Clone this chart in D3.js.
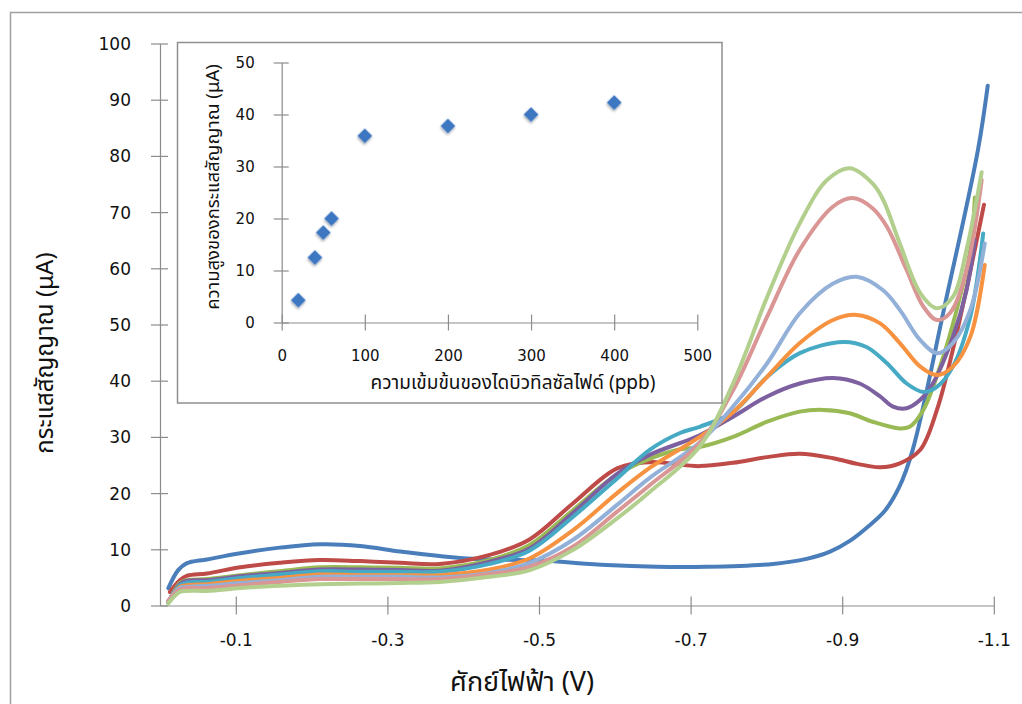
<!DOCTYPE html>
<html>
<head>
<meta charset="utf-8">
<script src="https://cdn.jsdelivr.net/npm/d3@7/dist/d3.min.js"></script>
<style>
  html, body { margin: 0; padding: 0; background: #fff; }
  svg { display: block; }
  .tick text { font-family: "DejaVu Sans", "Noto Sans", sans-serif; fill: #111; }
  .title { font-family: "Noto Sans Thai", "Noto Sans", "DejaVu Sans", sans-serif; fill: #111; }
</style>
</head>
<body>
<svg id="chart" width="1022" height="704"></svg>
<script>
// Cyclic voltammograms: potential (V) vs current (µA), one series per concentration
const blank   = [[-0.011,3.1],[-0.024,6.3],[-0.035,7.5],[-0.062,8.2],[-0.106,9.3],[-0.158,10.3],[-0.211,10.9],[-0.264,10.6],[-0.317,9.6],[-0.369,8.8],[-0.413,8.3],[-0.501,8.0],[-0.589,7.2],[-0.655,6.9],[-0.721,6.9],[-0.809,7.4],[-0.853,8.3],[-0.884,9.6],[-0.910,11.5],[-0.932,13.8],[-0.956,16.8],[-0.975,21.0],[-0.993,27.7],[-1.036,53.8],[-1.079,81.0],[-1.092,92.5]];
const ppb20   = [[-0.013,2.4],[-0.026,4.5],[-0.036,5.3],[-0.062,5.7],[-0.106,6.8],[-0.158,7.6],[-0.211,8.1],[-0.264,7.9],[-0.317,7.6],[-0.369,7.4],[-0.435,9.0],[-0.488,11.8],[-0.545,18.2],[-0.603,24.4],[-0.646,25.5],[-0.712,24.8],[-0.756,25.4],[-0.801,26.4],[-0.844,27.0],[-0.888,26.2],[-0.920,25.2],[-0.950,24.6],[-0.976,25.3],[-1.003,27.7],[-1.025,34.8],[-1.046,45.5],[-1.069,59.5],[-1.087,71.3]];
const ppb40   = [[-0.011,0.4],[-0.026,4.0],[-0.036,4.5],[-0.062,4.7],[-0.106,5.4],[-0.158,6.1],[-0.211,6.8],[-0.264,6.8],[-0.317,6.7],[-0.369,6.6],[-0.435,8.1],[-0.488,10.8],[-0.545,17.0],[-0.603,23.3],[-0.646,26.1],[-0.686,27.8],[-0.712,28.2],[-0.756,30.0],[-0.801,32.7],[-0.844,34.5],[-0.875,34.8],[-0.910,34.2],[-0.940,32.7],[-0.976,31.5],[-0.989,31.8],[-1.007,34.8],[-1.029,42.5],[-1.051,52.6],[-1.069,63.3],[-1.075,72.6]];
const ppb50   = [[-0.011,0.6],[-0.026,3.8],[-0.036,4.4],[-0.062,4.5],[-0.106,5.2],[-0.158,5.8],[-0.211,6.4],[-0.264,6.4],[-0.317,6.3],[-0.369,6.2],[-0.435,7.8],[-0.488,10.2],[-0.545,16.5],[-0.603,23.4],[-0.646,26.8],[-0.712,30.3],[-0.756,33.6],[-0.801,37.2],[-0.844,39.5],[-0.888,40.5],[-0.923,39.5],[-0.950,37.2],[-0.967,35.4],[-0.985,35.1],[-1.003,36.6],[-1.020,39.6],[-1.046,47.8],[-1.064,56.1],[-1.075,65.0]];
const ppb60   = [[-0.011,0.6],[-0.026,3.6],[-0.036,4.1],[-0.062,4.2],[-0.106,4.9],[-0.158,5.5],[-0.211,6.1],[-0.264,6.0],[-0.317,6.0],[-0.369,6.0],[-0.435,7.4],[-0.488,9.8],[-0.545,15.8],[-0.603,22.6],[-0.646,27.7],[-0.686,30.7],[-0.712,31.8],[-0.756,34.4],[-0.801,40.7],[-0.844,44.9],[-0.901,46.9],[-0.932,46.0],[-0.959,43.1],[-0.985,39.5],[-1.007,38.0],[-1.025,38.9],[-1.046,42.5],[-1.069,51.4],[-1.086,66.2]];
const ppb100  = [[-0.011,0.8],[-0.026,3.3],[-0.036,3.6],[-0.062,3.8],[-0.106,4.4],[-0.158,4.9],[-0.211,5.5],[-0.264,5.4],[-0.317,5.4],[-0.369,5.4],[-0.435,6.4],[-0.488,8.4],[-0.545,13.4],[-0.603,20.0],[-0.646,24.5],[-0.712,30.0],[-0.756,34.4],[-0.801,40.7],[-0.844,46.7],[-0.888,50.8],[-0.919,51.7],[-0.950,50.2],[-0.976,46.7],[-1.003,42.5],[-1.025,41.0],[-1.046,42.5],[-1.069,47.8],[-1.088,60.6]];
const ppb200  = [[-0.011,0.8],[-0.026,3.1],[-0.036,3.3],[-0.062,3.5],[-0.106,4.0],[-0.158,4.5],[-0.211,5.1],[-0.264,5.1],[-0.317,5.1],[-0.369,5.0],[-0.435,5.8],[-0.488,7.6],[-0.545,11.7],[-0.603,17.9],[-0.646,22.7],[-0.712,29.0],[-0.756,35.4],[-0.801,43.1],[-0.844,52.0],[-0.888,57.3],[-0.919,58.5],[-0.954,56.1],[-0.976,52.6],[-1.003,47.2],[-1.025,44.9],[-1.046,46.7],[-1.069,52.6],[-1.088,64.4]];
const ppb300  = [[-0.011,0.8],[-0.026,2.8],[-0.036,3.1],[-0.062,3.1],[-0.106,3.6],[-0.158,4.2],[-0.211,4.7],[-0.264,4.7],[-0.317,4.7],[-0.369,4.7],[-0.435,5.6],[-0.488,6.9],[-0.545,10.5],[-0.603,16.7],[-0.646,21.4],[-0.712,28.9],[-0.756,38.3],[-0.801,51.4],[-0.844,63.3],[-0.888,71.0],[-0.914,72.5],[-0.940,70.7],[-0.959,67.4],[-0.985,59.7],[-1.007,53.2],[-1.025,50.8],[-1.042,52.0],[-1.064,59.7],[-1.084,75.7]];
const ppb400  = [[-0.011,0.4],[-0.026,2.4],[-0.036,2.6],[-0.062,2.6],[-0.106,3.1],[-0.158,3.5],[-0.211,3.8],[-0.264,3.9],[-0.317,4.0],[-0.369,4.2],[-0.435,5.1],[-0.488,6.3],[-0.545,9.9],[-0.603,15.5],[-0.646,20.2],[-0.712,28.3],[-0.756,39.5],[-0.801,54.9],[-0.844,68.0],[-0.880,75.7],[-0.910,77.8],[-0.940,75.1],[-0.954,72.2],[-0.976,64.4],[-1.003,55.6],[-1.025,52.9],[-1.046,54.9],[-1.064,63.3],[-1.084,77.1]];

const curveSeries = [blank, ppb20, ppb40, ppb50, ppb60, ppb100, ppb200, ppb300, ppb400];
const curveColors = ["#4A7EBB", "#BE4B48", "#98B954", "#7D60A0", "#46AAC5", "#F69240", "#93B1D8", "#D99694", "#B3CF8E"];

const mainXTicks = [-0.1, -0.3, -0.5, -0.7, -0.9, -1.1];
const mainYTicks = [0, 10, 20, 30, 40, 50, 60, 70, 80, 90, 100];

// Calibration: peak current vs dibutyl sulfide concentration
const concentration = [20, 40, 50, 60, 100, 200, 300, 400];
const peakCurrent   = [4.3, 12.5, 17.3, 20.0, 35.9, 37.8, 40.0, 42.3];
const insetXTicks = [0, 100, 200, 300, 400, 500];
const insetYTicks = [0, 10, 20, 30, 40, 50];

const svg = d3.select("#chart");
const axisColor = "#8c8c8c";

// outer chart frame
svg.append("rect").attr("x", 10.5).attr("y", 12.5).attr("width", 1030).attr("height", 720)
  .attr("fill", "#fff").attr("stroke", "#a0a0a0").attr("stroke-width", 1.5);

// ---------- main plot ----------
const x = d3.scaleLinear().domain([0, -1.1]).range([160, 993.8]);
const y = d3.scaleLinear().domain([0, 100]).range([605.5, 43.5]);

function styleAxis(g, crossA, crossB, isY) {
  g.select(".domain").attr("stroke", axisColor).attr("stroke-width", 1.2);
  g.selectAll(".tick line").attr("stroke", axisColor).attr("stroke-width", 1.2);
  if (isY) g.selectAll(".tick line").attr("x1", crossA).attr("x2", crossB);
  else g.selectAll(".tick line").attr("y1", crossA).attr("y2", crossB);
}

const gx = svg.append("g").attr("transform", "translate(0,605.5)")
  .call(d3.axisBottom(x).tickValues(mainXTicks).tickFormat(d => d.toFixed(1)).tickSizeOuter(0));
styleAxis(gx, -9, 9, false);
gx.selectAll(".tick text").attr("y", 35).attr("dy", "0.35em").attr("font-size", 17);

const gy = svg.append("g").attr("transform", "translate(160,0)")
  .call(d3.axisLeft(y).tickValues(mainYTicks).tickSizeOuter(0));
styleAxis(gy, -9, 8, true);
gy.selectAll(".tick text").attr("x", -29).attr("dy", "0.35em").attr("font-size", 17);

const line = d3.line().x(d => x(d[0])).y(d => y(d[1])).curve(d3.curveCatmullRom.alpha(0.5));

svg.append("g").selectAll("path").data(curveSeries).join("path")
  .attr("d", line)
  .attr("fill", "none")
  .attr("stroke", (d, i) => curveColors[i])
  .attr("stroke-width", 4)
  .attr("stroke-linejoin", "round")
  .attr("stroke-linecap", "round");

svg.append("text").attr("class", "title")
  .attr("x", 522).attr("y", 682).attr("dy", "0.35em")
  .attr("text-anchor", "middle").attr("font-size", 27)
  .text("ศักย์ไฟฟ้า (V)");

svg.append("text").attr("class", "title")
  .attr("transform", "translate(45,353) rotate(-90)")
  .attr("dy", "0.35em").attr("text-anchor", "middle").attr("font-size", 24)
  .text("กระแสสัญญาณ (μA)");

// ---------- inset calibration plot ----------
const defs = svg.append("defs");
const f = defs.append("filter").attr("id", "shadow").attr("x", "-50%").attr("y", "-50%").attr("width", "200%").attr("height", "200%");
f.append("feDropShadow").attr("dx", 1).attr("dy", 1.5).attr("stdDeviation", 1.2)
  .attr("flood-color", "#000").attr("flood-opacity", 0.35);

svg.append("rect").attr("x", 177.5).attr("y", 42.5).attr("width", 544.5).attr("height", 360.5)
  .attr("fill", "#fff").attr("stroke", "#8f8f8f").attr("stroke-width", 1.5);

const xi = d3.scaleLinear().domain([0, 500]).range([281.7, 697.3]);
const yi = d3.scaleLinear().domain([0, 50]).range([322.5, 62.5]);

const gxi = svg.append("g").attr("transform", "translate(0,322.5)")
  .call(d3.axisBottom(xi).tickValues(insetXTicks).tickSizeOuter(0));
styleAxis(gxi, -8, 8, false);
gxi.selectAll(".tick text").attr("y", 33.5).attr("dy", "0.35em").attr("font-size", 15);

const gyi = svg.append("g").attr("transform", "translate(281.7,0)")
  .call(d3.axisLeft(yi).tickValues(insetYTicks).tickSizeOuter(0));
styleAxis(gyi, -8, 7, true);
gyi.selectAll(".tick text").attr("x", -27).attr("dy", "0.35em").attr("font-size", 15);

const diamond = d3.symbol().type(d3.symbolSquare).size(110);
svg.append("g").selectAll("path").data(concentration).join("path")
  .attr("d", diamond)
  .attr("transform", (d, i) => `translate(${xi(d)},${yi(peakCurrent[i])}) rotate(45)`)
  .attr("fill", "#3D77C2")
  .attr("filter", "url(#shadow)");

svg.append("text").attr("class", "title")
  .attr("x", 513).attr("y", 382).attr("dy", "0.35em")
  .attr("text-anchor", "middle").attr("font-size", 19)
  .text("ความเข้มข้นของไดบิวทิลซัลไฟด์ (ppb)");

svg.append("text").attr("class", "title")
  .attr("transform", "translate(213,187) rotate(-90)")
  .attr("dy", "0.35em").attr("text-anchor", "middle").attr("font-size", 18.5)
  .text("ความสูงของกระแสสัญญาณ (μA)");
</script>
</body>
</html>
